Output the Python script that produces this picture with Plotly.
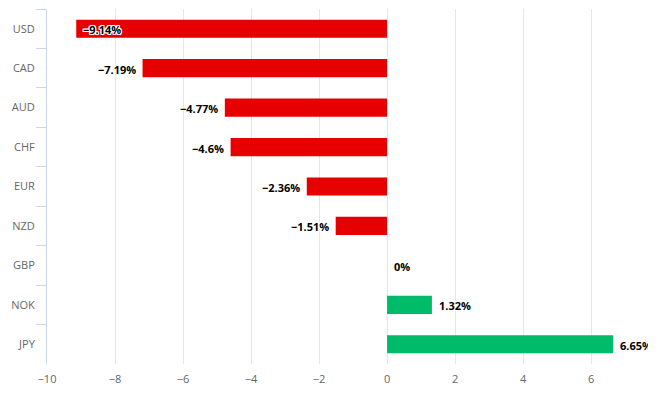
import plotly.graph_objects as go

currencies = ["USD", "CAD", "AUD", "CHF", "EUR", "NZD", "GBP", "NOK", "JPY"]
changes = [-9.14, -7.19, -4.77, -4.6, -2.36, -1.51, 0, 1.32, 6.65]
x_ticks = [-10, -8, -6, -4, -2, 0, 2, 4, 6]
edge_tick = "8"

RED = "#e60000"
GREEN = "#00bb6a"
colors = [GREEN if v > 0 else RED for v in changes]

fig = go.Figure(go.Bar(
    x=changes, y=currencies, orientation="h",
    marker=dict(color=colors, line=dict(width=0)),
    width=0.46, hoverinfo="skip",
))

outline = "1px 0 0 #fff, -1px 0 0 #fff, 0 1px 0 #fff, 0 -1px 0 #fff, 1px 1px 0 #fff, -1px -1px 0 #fff, 1px -1px 0 #fff, -1px 1px 0 #fff"
annotations = []
for c, v in zip(currencies, changes):
    label = f"{v:g}%".replace("-", "\u2212")
    inside = v < -8.5
    if v < 0 and not inside:
        anchor, shift = "right", -5
    else:
        anchor, shift = "left", 5
    annotations.append(dict(
        x=v, y=c, xref="x", yref="y", text=label, showarrow=False,
        xanchor=anchor, xshift=shift, yshift=-1,
        font=dict(family="Open Sans", size=11, color="#000", weight="bold", shadow=outline),
    ))

# partially visible last tick label at the right edge
annotations.append(dict(
    x=1.005, y=0, xref="paper", yref="paper", text=edge_tick, showarrow=False,
    xanchor="center", yanchor="middle", yshift=-14,
    font=dict(family="Open Sans", size=11, color="#666"),
))

fig.update_layout(
    width=648, height=385,
    margin=dict(l=39, r=0, t=1, b=29),
    paper_bgcolor="#fff", plot_bgcolor="#fff",
    showlegend=False,
    annotations=annotations,
    xaxis=dict(
        range=[-10, 7.91], tickvals=x_ticks, showgrid=True, gridcolor="#e6e6e6",
        zeroline=True, zerolinecolor="#e6e6e6", zerolinewidth=1, showline=False,
        tickfont=dict(family="Open Sans", size=11, color="#666"), ticks="",
        ticklabelstandoff=7,
        fixedrange=True,
    ),
    yaxis=dict(
        categoryorder="array", categoryarray=currencies, autorange="reversed",
        showline=True, linecolor="#ccd6eb", linewidth=1,
        ticks="outside", tickson="boundaries", ticklen=10, tickcolor="#ccd6eb",
        ticklabelstandoff=9,
        tickfont=dict(family="Open Sans", size=11, color="#666"),
        showgrid=False, zeroline=False,
    ),
)

fig.write_html("out.html")
